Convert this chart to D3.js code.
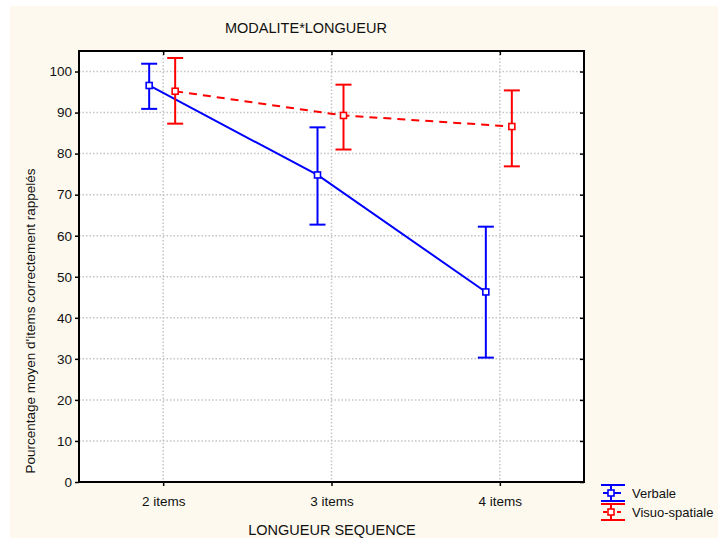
<!DOCTYPE html>
<html>
<head>
<meta charset="utf-8">
<script src="https://cdn.jsdelivr.net/npm/d3@7"></script>
<style>
html,body{margin:0;padding:0;background:#ffffff;}
svg{display:block;font-family:"Liberation Sans",Arial,sans-serif;}
</style>
</head>
<body>
<svg id="chart" width="718" height="539"></svg>
<script>
const categories = ["2 items", "3 items", "4 items"];
const verbaleMean = [96.6, 74.8, 46.3];
const verbaleLow  = [90.9, 62.7, 30.3];
const verbaleHigh = [101.9, 86.4, 62.2];
const visuoMean = [95.2, 89.3, 86.6];
const visuoLow  = [87.3, 81.0, 76.9];
const visuoHigh = [103.3, 96.8, 95.4];
const yTicks = [0, 10, 20, 30, 40, 50, 60, 70, 80, 90, 100];
const seriesNames = ["Verbale", "Visuo-spatiale"];

const svg = d3.select("#chart");
const L = 79, R = 584, T = 51, B = 482;

svg.append("rect").attr("x", 10).attr("y", 6).attr("width", 708).attr("height", 532).attr("fill", "#fdf9ee");
svg.append("rect").attr("x", L).attr("y", T).attr("width", R - L).attr("height", B - T).attr("fill", "#ffffff");

const x = d3.scalePoint().domain(categories).range([L, R]).padding(0.5);
const y = d3.scaleLinear().domain([0, 105]).range([B, T]);

// grid
const grid = svg.append("g").attr("stroke", "#c4c4c4").attr("stroke-width", 1.5).attr("stroke-dasharray", "1.5,2");
grid.selectAll("line.h").data(yTicks.filter(d => d > 0)).join("line")
  .attr("x1", L).attr("x2", R).attr("y1", d => y(d)).attr("y2", d => y(d));
grid.selectAll("line.v").data(categories).join("line")
  .attr("x1", d => x(d)).attr("x2", d => x(d)).attr("y1", T).attr("y2", B);

// axes
const yAxis = svg.append("g").attr("transform", `translate(${L},0)`)
  .call(d3.axisLeft(y).tickValues(yTicks).tickSize(4).tickPadding(3));
const xAxis = svg.append("g").attr("transform", `translate(0,${B})`)
  .call(d3.axisBottom(x).tickSize(4).tickPadding(10));
[yAxis, xAxis].forEach(a => {
  a.select(".domain").remove();
  a.selectAll("line").attr("stroke", "#000").attr("stroke-width", 1.5);
  a.selectAll("text").attr("fill", "#111").attr("font-size", "13.5px").attr("font-family", '"Liberation Sans",Arial,sans-serif');
});
// inner ticks on top and right
svg.append("g").attr("transform", `translate(${R},0)`)
  .call(d3.axisRight(y).tickValues(yTicks).tickSize(-4).tickFormat(""))
  .call(g => { g.select(".domain").remove(); g.selectAll("line").attr("stroke", "#000").attr("stroke-width", 1.5); });
svg.append("g").attr("transform", `translate(0,${T})`)
  .call(d3.axisTop(x).tickSize(-4).tickFormat(""))
  .call(g => { g.select(".domain").remove(); g.selectAll("line").attr("stroke", "#000").attr("stroke-width", 1.5); });

// frame
svg.append("rect").attr("x", L).attr("y", T).attr("width", R - L).attr("height", B - T)
  .attr("fill", "none").attr("stroke", "#000").attr("stroke-width", 2);

function drawSeries(means, lows, highs, color, offset, dash) {
  const g = svg.append("g");
  const pts = categories.map((c, i) => ({ x: x(c) + offset, m: means[i], lo: lows[i], hi: highs[i] }));
  g.append("path").datum(pts)
    .attr("d", d3.line().x(d => d.x).y(d => y(d.m)))
    .attr("fill", "none").attr("stroke", color).attr("stroke-width", 2)
    .attr("stroke-dasharray", dash);
  g.selectAll("line.e").data(pts).join("line")
    .attr("x1", d => d.x).attr("x2", d => d.x).attr("y1", d => y(d.lo)).attr("y2", d => y(d.hi))
    .attr("stroke", color).attr("stroke-width", 2);
  g.selectAll("line.ct").data(pts).join("line")
    .attr("x1", d => d.x - 8).attr("x2", d => d.x + 8).attr("y1", d => y(d.hi)).attr("y2", d => y(d.hi))
    .attr("stroke", color).attr("stroke-width", 2);
  g.selectAll("line.cb").data(pts).join("line")
    .attr("x1", d => d.x - 8).attr("x2", d => d.x + 8).attr("y1", d => y(d.lo)).attr("y2", d => y(d.lo))
    .attr("stroke", color).attr("stroke-width", 2);
  g.selectAll("rect").data(pts).join("rect")
    .attr("x", d => d.x - 3).attr("y", d => y(d.m) - 3).attr("width", 6).attr("height", 6)
    .attr("fill", "#fff").attr("stroke", color).attr("stroke-width", 1.6);
}
drawSeries(verbaleMean, verbaleLow, verbaleHigh, "#0000ff", -14, null);
drawSeries(visuoMean, visuoLow, visuoHigh, "#ff0000", 12, "8,6");

// titles
svg.append("text").attr("x", 306).attr("y", 33).attr("text-anchor", "middle")
  .attr("font-size", "14.5px").attr("fill", "#111").text("MODALITE*LONGUEUR");
svg.append("text").attr("x", 332).attr("y", 535).attr("text-anchor", "middle")
  .attr("font-size", "14.5px").attr("fill", "#111").text("LONGUEUR SEQUENCE");
svg.append("text").attr("transform", "translate(35,321) rotate(-90)").attr("text-anchor", "middle")
  .attr("font-size", "13.5px").attr("fill", "#111").text("Pourcentage moyen d'items correctement rappelés");

// legend
const legColors = ["#0000ff", "#ff0000"];
const lg = svg.selectAll("g.leg").data(seriesNames).join("g")
  .attr("transform", (d, i) => `translate(0,${493 + i * 19})`);
lg.each(function(d, i) {
  const g = d3.select(this), c = legColors[i];
  g.append("line").attr("x1", 601).attr("x2", 625).attr("y1", -8).attr("y2", -8).attr("stroke", c).attr("stroke-width", 2);
  g.append("line").attr("x1", 601).attr("x2", 625).attr("y1", 8).attr("y2", 8).attr("stroke", c).attr("stroke-width", 2);
  g.append("line").attr("x1", 611).attr("x2", 611).attr("y1", -8).attr("y2", 8).attr("stroke", c).attr("stroke-width", 2);
  g.append("line").attr("x1", 603).attr("x2", 621).attr("y1", 0).attr("y2", 0).attr("stroke", c).attr("stroke-width", 2)
    .attr("stroke-dasharray", i === 1 ? "4,3" : null);
  g.append("rect").attr("x", 608).attr("y", -3).attr("width", 6).attr("height", 6).attr("fill", "#fff").attr("stroke", c).attr("stroke-width", 1.6);
  g.append("text").attr("x", 632).attr("y", 5).attr("font-size", "13px").attr("fill", "#111").text(d);
});
</script>
</body>
</html>
